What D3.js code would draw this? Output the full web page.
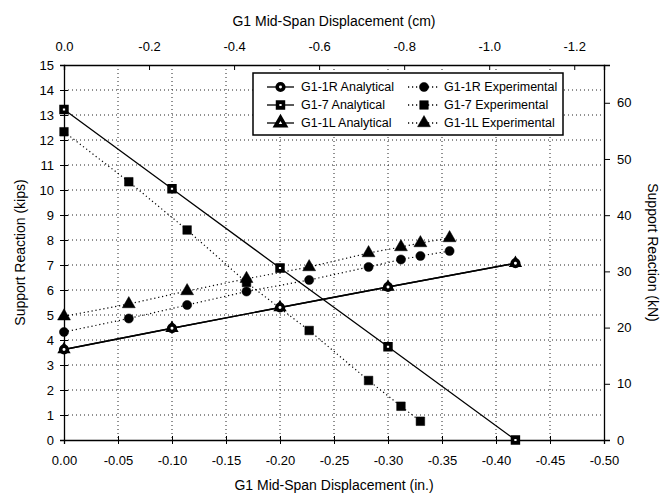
<!DOCTYPE html>
<html>
<head>
<meta charset="utf-8">
<script src="https://cdn.jsdelivr.net/npm/d3@7"></script>
<style>
  body { margin: 0; background: #fff; }
  svg text { font-family: 'Liberation Sans', Arial, sans-serif; fill: #000; }
</style>
</head>
<body>
<svg id="chart"></svg>
<script>
// displacement (in.) for the analytical runs
const analyticalDisp = [0, -0.10, -0.20, -0.30, -0.418];
const g11RAnalytical = [3.62, 4.47, 5.3, 6.12, 7.07];
const g17Analytical = [13.22, 10.05, 6.88, 3.73, 0];
const g11LAnalytical = [3.62, 4.47, 5.3, 6.12, 7.07];

// displacement (in.) for the test readings
const expDisp = [0, -0.060, -0.114, -0.169, -0.227, -0.282, -0.312, -0.330, -0.357];
const g11RExperimental = [4.32, 4.86, 5.4, 5.94, 6.4, 6.92, 7.22, 7.36, 7.56];
const g17Experimental = [12.33, 10.33, 8.4, 6.3, 4.38, 2.38, 1.35, 0.75];
const g11LExperimental = [4.95, 5.44, 5.96, 6.45, 6.92, 7.48, 7.72, 7.88, 8.08];

const bottomTicks = [0, -0.05, -0.10, -0.15, -0.20, -0.25, -0.30, -0.35, -0.40, -0.45, -0.50];
const topTicks = [0, -0.2, -0.4, -0.6, -0.8, -1.0, -1.2];
const kipTicks = d3.range(0, 16);
const knTicks = [0, 10, 20, 30, 40, 50, 60];

const legendItems = [
  { label: 'G1-1R Analytical', shape: 'circle', analytical: true },
  { label: 'G1-1R Experimental', shape: 'circle', analytical: false },
  { label: 'G1-7 Analytical', shape: 'square', analytical: true },
  { label: 'G1-7 Experimental', shape: 'square', analytical: false },
  { label: 'G1-1L Analytical', shape: 'triangle', analytical: true },
  { label: 'G1-1L Experimental', shape: 'triangle', analytical: false },
];

const W = 662, H = 501;
const margin = { top: 65, right: 58, bottom: 61, left: 64 };
const width = W - margin.left - margin.right;
const height = H - margin.top - margin.bottom;

const svg = d3.select('#chart').attr('width', W).attr('height', H);
const g = svg.append('g').attr('transform', `translate(${margin.left},${margin.top})`);

const x = d3.scaleLinear().domain([0, -0.5]).range([0, width]);
const xCm = d3.scaleLinear().domain([0, -0.5 * 2.54]).range([0, width]);
const y = d3.scaleLinear().domain([0, 15]).range([height, 0]);
const yKn = d3.scaleLinear().domain([0, 15 * 4.448]).range([height, 0]);

// grid
g.append('g').selectAll('line')
  .data(bottomTicks.slice(1, -1))
  .join('line')
  .attr('x1', d => x(d)).attr('x2', d => x(d))
  .attr('y1', 0).attr('y2', height)
  .attr('stroke', '#222').attr('stroke-width', 1).attr('stroke-dasharray', '1 3');
g.append('g').selectAll('line')
  .data(kipTicks.slice(1, -1))
  .join('line')
  .attr('x1', 0).attr('x2', width)
  .attr('y1', d => y(d)).attr('y2', d => y(d))
  .attr('stroke', '#222').attr('stroke-width', 1).attr('stroke-dasharray', '1 3');

// axes (plain hyphen for the minus sign, as in the original)
const fmt2 = d => d === 0 ? '0.00' : d.toFixed(2);
const fmt1 = d => d === 0 ? '0.0' : d.toFixed(1);

const xAxis = g.append('g').attr('transform', `translate(0,${height})`)
  .call(d3.axisBottom(x).tickValues(bottomTicks).tickFormat(fmt2).tickSize(4).tickPadding(12));
xAxis.selectAll('.tick line').attr('y1', -4);

const xTop = g.append('g')
  .call(d3.axisTop(xCm).tickValues(topTicks).tickFormat(fmt1).tickSize(-5).tickPadding(14));

const yAxis = g.append('g')
  .call(d3.axisLeft(y).tickValues(kipTicks).tickSize(4).tickPadding(6));
yAxis.selectAll('.tick line').attr('x1', 4);

const yRight = g.append('g').attr('transform', `translate(${width},0)`)
  .call(d3.axisRight(yKn).tickValues(knTicks).tickSize(6).tickPadding(7));

[xAxis, xTop, yAxis, yRight].forEach(a => {
  a.select('.domain').attr('stroke', '#000').attr('stroke-width', 1.3);
  a.selectAll('.tick line').attr('stroke', '#000');
  a.selectAll('.tick text').attr('font-size', 13)
    .style('font-family', "'Liberation Sans', Arial, sans-serif");
});

// axis titles
svg.append('text').attr('x', margin.left + width / 2).attr('y', 490)
  .attr('text-anchor', 'middle').attr('font-size', 14)
  .text('G1 Mid-Span Displacement (in.)');
svg.append('text').attr('x', margin.left + width / 2).attr('y', 26)
  .attr('text-anchor', 'middle').attr('font-size', 14)
  .text('G1 Mid-Span Displacement (cm)');
svg.append('text')
  .attr('transform', `translate(25,${margin.top + height / 2}) rotate(-90)`)
  .attr('text-anchor', 'middle').attr('font-size', 14)
  .text('Support Reaction (kips)');
svg.append('text')
  .attr('transform', `translate(648,${margin.top + height / 2}) rotate(90)`)
  .attr('text-anchor', 'middle').attr('font-size', 14)
  .text('Support Reaction (kN)');

// marker helpers
const symbolType = { circle: d3.symbolCircle, square: d3.symbolSquare, triangle: d3.symbolTriangle };
const openSize = { circle: 34, square: 34, triangle: 40 };
const filledSize = { circle: 66, square: 74, triangle: 72 };

function drawMarker(sel, shape, analytical, plotSize) {
  const size = analytical ? (plotSize || openSize[shape]) : filledSize[shape];
  sel.attr('d', d3.symbol().type(symbolType[shape]).size(size)())
    .attr('fill', analytical ? '#fff' : '#000')
    .attr('stroke', '#000')
    .attr('stroke-width', analytical ? 3.6 : 0.5);
}

function drawSeries(xs, ys, shape, analytical, plotSize) {
  const pts = ys.map((v, i) => [xs[i], v]);
  const line = d3.line().x(d => x(d[0])).y(d => y(d[1]));
  g.append('path').datum(pts)
    .attr('d', line)
    .attr('fill', 'none')
    .attr('stroke', '#000')
    .attr('stroke-width', analytical ? 1.3 : 1.2)
    .attr('stroke-dasharray', analytical ? null : '1.2 2.8');
  g.append('g').selectAll('path')
    .data(pts)
    .join('path')
    .attr('transform', d => `translate(${x(d[0])},${y(d[1])})`)
    .call(drawMarker, shape, analytical, plotSize);
}

// experimental first, analytical on top (1L analytical sits under 1R)
drawSeries(expDisp, g11LExperimental, 'triangle', false);
drawSeries(expDisp, g17Experimental, 'square', false);
drawSeries(expDisp, g11RExperimental, 'circle', false);
drawSeries(analyticalDisp, g11LAnalytical, 'triangle', true, 22);
drawSeries(analyticalDisp, g17Analytical, 'square', true);
drawSeries(analyticalDisp, g11RAnalytical, 'circle', true);

// legend
const legend = svg.append('g').attr('transform', 'translate(253,73)');
legend.append('rect')
  .attr('width', 310).attr('height', 62)
  .attr('fill', '#fff').attr('stroke', '#000').attr('stroke-width', 1.5);

const items = legend.selectAll('.legend-item')
  .data(legendItems)
  .join('g')
  .attr('class', 'legend-item')
  .attr('transform', (d, i) => `translate(${i % 2 === 0 ? 14 : 155},${14 + Math.floor(i / 2) * 18})`);

items.append('line')
  .attr('x1', 0).attr('x2', d => d.analytical ? 27 : 32)
  .attr('stroke', '#000').attr('stroke-width', 1.3)
  .attr('stroke-dasharray', d => d.analytical ? null : '1.2 2.8');
items.append('path')
  .attr('transform', d => `translate(${d.analytical ? 13.5 : 16},0)`)
  .each(function (d) { d3.select(this).call(drawMarker, d.shape, d.analytical); });
items.append('text')
  .attr('x', d => d.analytical ? 34 : 36).attr('dy', '0.35em')
  .attr('font-size', 12.5)
  .text(d => d.label);
</script>
</body>
</html>
